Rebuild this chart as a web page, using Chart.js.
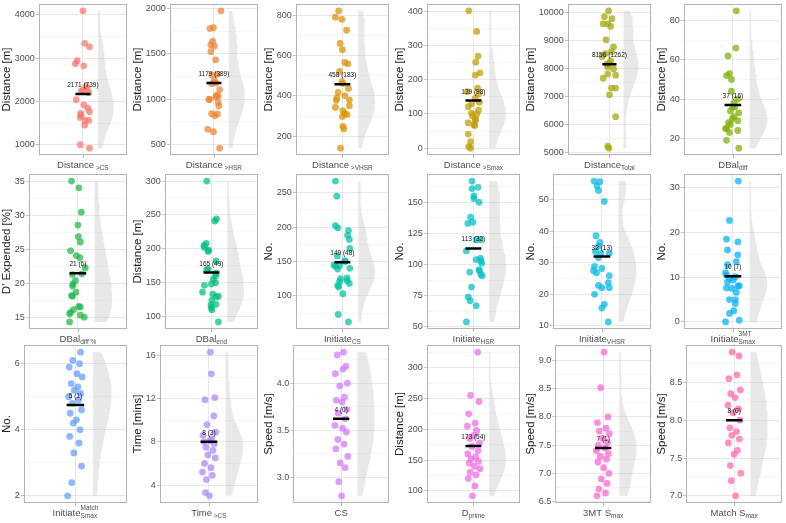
<!DOCTYPE html>
<html>
<head>
<meta charset="utf-8">
<script src="https://cdn.jsdelivr.net/npm/chart.js@4.4.1/dist/chart.umd.min.js"></script>
<style>
html, body { margin: 0; padding: 0; background: #fff; }
#wrap { position: relative; width: 786px; height: 523px; overflow: hidden; }
</style>
</head>
<body>
<div id="wrap"></div>
<script>
// ===========================
// Data
// ===========================
const distCS    = [4090,3340,3260,2940,2870,2820,2350,2300,2260,2230,2200,2040,1920,1850,1760,1720,1680,1630,1560,1560,1450,1000,920];
const distHSR   = [1975,1790,1780,1640,1600,1585,1525,1435,1275,1268,1205,1180,1170,1105,1045,1035,1025,1000,995,965,925,840,838,818,668,643,461];
const distVHSR  = [821,790,779,725,660,629,566,559,521,470,462,437,418,402,390,378,381,352,343,327,314,308,298,250,237,142];
const distSmax  = [401,341,269,251,220,213,175,165,158,145,134,130,121,111,102,99,94,85,80,74,68,66,41,19,4,0];
const distTotal = [10060,9850,9780,9600,9600,9510,9030,8780,8610,8540,8430,8280,8190,8160,8060,7990,7810,7770,7660,7310,7310,7070,6290,5240,5170];
const dbalDiff  = [85,66,62,53,52,50,44,40,38,36,36,34,33,31,30,29,28,27,25,25,24,23,19,15];
const dbalPct   = [35.1,34.1,30.5,28.6,26.9,26.1,24.8,24.1,23.8,22.3,21.4,21.3,20.4,19.9,19.6,18.7,18.2,18.1,16.6,16.5,16.1,15.7,15.5,15.3,15.0,14.3];
const dbalEnd   = [300,244,241,208,205,202,198,196,182,170,169,164,160,155,150,148,146,136,133,130,129,124,118,117,113,110,92];
const initCS    = [267,245,202,199,195,188,182,169,158,151,150,145,144,143,140,139,126,125,122,121,118,115,113,103,73,62];
const initHSR   = [167,162,161,155,153,150,138,134,133,120,120,111,105,104,103,101,96,95,94,92,91,82,74,71,67,54];
const initVHSR  = [56.0,55.8,54.4,53.0,49.5,38.6,36.5,35.3,33.6,33.1,32.9,31.6,28.9,28.2,27.5,26.8,25.9,23.7,22.8,22.1,22.1,20.0,16.8,15.6,11.2];
const init3MT   = [31.5,22.7,18.5,17.9,16.1,15.0,13.5,12.8,11.0,10.5,10.1,9.7,9.4,8.9,8.1,8.0,7.6,7.5,6.6,5.0,5.0,4.1,2.5,1.9,0.4,0];
const initMatch = [6.35,6.1,6.0,5.9,5.7,5.6,5.4,5.3,5.2,5.1,5.0,4.9,4.8,4.6,4.5,4.3,4.2,4.0,3.8,3.6,3.3,2.9,2.4,2.0];
const timeCS    = [16.3,14.3,12.1,11.9,10.4,9.6,8.9,8.6,8.3,8.1,8.0,7.8,7.5,7.2,6.8,6.5,6.0,5.6,5.2,4.9,4.5,3.3,3.0];
const csSpeed   = [4.33,4.3,4.18,4.15,4.1,4.0,3.97,3.85,3.82,3.8,3.72,3.68,3.62,3.55,3.52,3.48,3.4,3.35,3.3,3.22,3.15,3.1,2.95,2.8];
const dPrime    = [325,255,245,225,210,205,198,190,185,178,172,165,160,155,152,148,145,140,136,130,126,120,108,92];
const smax3MT   = [9.15,8.52,8.0,7.9,7.8,7.75,7.7,7.62,7.55,7.5,7.45,7.4,7.35,7.3,7.25,7.2,7.1,7.0,6.9,6.82,6.72,6.65,6.6];
const smaxMatch = [8.9,8.85,8.6,8.55,8.4,8.35,8.3,8.2,8.15,8.1,8.0,7.9,7.85,7.8,7.75,7.7,7.6,7.55,7.4,7.3,7.2,7.0];

// horizontal jitter of each point (category units)
const jitCS    = [0,0.04,0.15,-0.13,-0.17,0.02,0.07,0.1,0,-0.04,0.13,-0.15,0.02,0.11,0.15,-0.05,-0.04,-0.06,0.13,0.05,0.04,-0.06,0.15];
const jitHSR   = [0.16,-0.01,-0.09,-0.03,-0.07,0.01,-0.07,0.04,0.08,-0.05,0.01,0.04,-0.05,0.13,0.06,0.1,0.04,-0.11,-0.1,0.1,0.11,-0.05,0.08,0.02,-0.14,-0.01,0.13];
const jitVHSR  = [-0.08,-0.15,-0.01,0.09,-0.05,0,0.05,0.12,-0.06,-0.01,0.01,0.13,-0.09,0.05,-0.12,-0.13,0.15,0.15,-0.15,0.01,0.05,0.1,0,0.01,0.03,-0.04];
const jitSmax  = [-0.1,0.07,0.1,0.05,0.14,0.04,0.09,-0.13,0.11,0.04,0.13,-0.04,-0.11,0.11,-0.04,0.07,-0.02,0.05,0.04,-0.11,0.01,0.03,-0.11,-0.06,-0.1,-0.06];
const jitTotal = [-0.02,-0.12,0.06,-0.15,-0.04,0.03,-0.08,0.1,0.05,-0.1,-0.17,0.03,0,-0.06,-0.04,0.1,-0.04,0.15,-0.15,0.05,0.15,0,0.15,-0.04,-0.01];
const jitDiff  = [0.07,0.06,-0.1,-0.07,-0.13,-0.03,-0.03,0.1,0.02,-0.01,0.04,-0.05,0.12,0.02,-0.01,0.1,-0.09,-0.05,-0.15,-0.13,0.1,-0.07,-0.13,0.12];
const jitPct   = [-0.13,0.02,0.07,0,0.01,0.05,-0.15,-0.03,0.04,0.15,0.08,-0.11,-0.05,-0.1,-0.11,-0.04,-0.13,-0.11,0.02,0.05,-0.09,-0.15,-0.17,0.05,0.13,-0.17];
const jitEnd   = [-0.1,0.11,0.07,-0.11,-0.16,-0.15,-0.06,-0.07,0.1,-0.07,-0.1,0.1,0.09,0.04,0.09,0,-0.15,-0.19,0.03,0.15,0.1,0.01,0.1,-0.01,0,0.01,0.15];
const jitInCS  = [-0.15,-0.12,-0.15,-0.1,0.13,0.11,0.15,0.16,-0.11,0.05,0.06,-0.18,-0.06,-0.15,0.16,-0.1,0.1,-0.04,0.1,-0.06,0.15,-0.1,-0.08,0.01,-0.09,0.13];
const jitInHSR = [-0.03,0.1,-0.03,0.01,0.01,0.12,-0.06,-0.01,-0.12,0.06,0.15,-0.15,0.15,0.06,0.16,0.18,0.12,0.13,-0.08,0.16,0.19,-0.04,-0.11,-0.07,0.06,-0.15];
const jitInVH  = [-0.16,-0.04,-0.1,-0.07,0.05,-0.12,-0.04,-0.07,-0.13,0.15,-0.02,-0.07,-0.15,0,-0.17,-0.11,0.15,0.13,-0.07,0,0.15,-0.15,0.05,0,0.13];
const jitIn3MT = [0.11,-0.07,-0.13,0.1,-0.11,0.1,0.07,-0.11,-0.15,-0.13,0.05,-0.07,0.01,-0.11,0.13,0.1,-0.13,-0.02,0.07,-0.07,0.05,0.05,0.02,-0.07,0.13,-0.15];
const jitInMat = [0.1,-0.05,0.08,-0.12,0.03,0.13,-0.08,0.05,-0.02,0.1,-0.13,0.06,-0.06,0.12,-0.1,0.02,-0.04,0.09,-0.11,0.07,-0.03,0.12,-0.07,-0.15];
const jitTime  = [0.03,0.05,0.12,-0.08,0.1,-0.04,0.14,-0.12,0.06,0.02,-0.1,0.11,-0.06,0.08,-0.02,0.13,-0.09,0.04,-0.13,0.07,-0.05,-0.07,0.01];
const jitCSsp  = [0.05,-0.08,0.1,0.04,-0.12,0.13,-0.03,0.07,-0.1,0.02,0.12,-0.06,0.09,-0.13,0.03,0.11,-0.07,0.06,-0.11,0.14,-0.02,0.08,-0.05,0.01];
const jitDpr   = [0.09,-0.06,0.12,-0.1,0.04,-0.13,0.07,0.01,-0.08,0.13,-0.03,0.1,-0.12,0.05,-0.05,0.11,-0.09,0.02,0.14,-0.07,0.06,-0.11,0.03,-0.02];
const jit3MT   = [0.02,-0.05,0.1,-0.12,0.06,-0.08,0.13,-0.02,0.09,-0.1,0.04,-0.14,0.11,-0.06,0.07,-0.11,0.01,0.12,-0.04,0.08,-0.09,0.05,-0.13];
const jitMat   = [-0.04,0.1,0.06,-0.11,0.13,-0.07,0.02,-0.13,0.09,-0.02,0.12,-0.09,0.05,-0.05,0.11,-0.12,0.07,0.0,-0.08,0.14,-0.06,0.03];

const panelValues = [distCS, distHSR, distVHSR, distSmax, distTotal, dbalDiff,
                     dbalPct, dbalEnd, initCS, initHSR, initVHSR, init3MT,
                     initMatch, timeCS, csSpeed, dPrime, smax3MT, smaxMatch];
const panelJitter = [jitCS, jitHSR, jitVHSR, jitSmax, jitTotal, jitDiff,
                     jitPct, jitEnd, jitInCS, jitInHSR, jitInVH, jitIn3MT,
                     jitInMat, jitTime, jitCSsp, jitDpr, jit3MT, jitMat];

const meanValues = [2171, 1179, 458, 139, 8156, 37, 21.5, 165, 149, 113, 32, 10.2, 4.75, 8.0, 3.62, 173, 7.45, 8.0];
const meanLabels = ["2171 (739)", "1179 (389)", "458 (183)", "139 (98)", "8156 (1262)", "37 (16)",
                    "21 (6)", "165 (49)", "149 (48)", "113 (32)", "32 (13)", "10 (7)",
                    "5 (1)", "8 (3)", "4 (0)", "173 (54)", "7 (1)", "8 (0)"];

const yTitles = ["Distance [m]", "Distance [m]", "Distance [m]", "Distance [m]", "Distance [m]", "Distance [m]",
                 "D' Expended [%]", "Distance [m]", "No.", "No.", "No.", "No.",
                 "No.", "Time [mins]", "Speed [m/s]", "Distance [m]", "Speed [m/s]", "Speed [m/s]"];
const majorSteps = [1000, 500, 200, 100, 1000, 20, 5, 50, 50, 25, 10, 10, 2, 4, 0.5, 50, 0.5, 0.5];

const xMain = ["Distance", "Distance", "Distance", "Distance", "Distance", "DBal",
               "DBal", "DBal", "Initiate", "Initiate", "Initiate", "Initiate",
               "Initiate", "Time", "CS", "D", "3MT S", "Match S"];
const xSub  = [" >CS", " >HSR", " >VHSR", " >Smax", "Total", "diff",
               "diff %", "end", "CS", "HSR", "VHSR", "Smax",
               "Smax", " >CS", "", "prime", "max", "max"];
const xSup  = ["", "", "", "", "", "", "", "", "", "", "", "3MT", "Match", "", "", "", "", ""];

const pointColors = ["#F8766D", "#EA8331", "#D89000", "#C09B00", "#A3A500", "#7CAE00",
                     "#1DB94A", "#00BF7D", "#00C1A3", "#00BFC4", "#00BAE0", "#00B0F6",
                     "#619CFF", "#AA85FF", "#D376FF", "#F166E8", "#FD61D1", "#FF65AC"];

// ===========================
// Layout / style
// ===========================
const FONT = '"Liberation Sans", Arial, sans-serif';
const COL_W = 131;
const ROW_TOP = [0, 170, 341];
const ROW_H = [176, 178, 182];
const PAD_TOP = [0, 3, 3];
const PAD_BOTTOM = [21, 19, 20];
const VIOLIN_BASE = 0.34, VIOLIN_W = 0.36;

function rgba(hex, a) {
    const n = parseInt(hex.slice(1), 16);
    return `rgba(${n >> 16},${(n >> 8) & 255},${n & 255},${a})`;
}

// half violin from a gaussian kernel density (bw.nrd0), trimmed to the data range
function halfViolin(vals) {
    const n = vals.length;
    const mean = vals.reduce((a, b) => a + b, 0) / n;
    const sd = Math.sqrt(vals.reduce((a, v) => a + (v - mean) ** 2, 0) / (n - 1));
    const s = [...vals].sort((a, b) => a - b);
    const q = p => { const h = (n - 1) * p, lo = Math.floor(h); return s[lo] + (h - lo) * ((s[lo + 1] ?? s[lo]) - s[lo]); };
    const bw = 0.9 * Math.min(sd, (q(0.75) - q(0.25)) / 1.34) * Math.pow(n, -0.2);
    const lo = s[0], hi = s[n - 1];
    const dens = [];
    for (let i = 0; i <= 100; i++) {
        const y = lo + (hi - lo) * i / 100;
        let d = 0;
        vals.forEach(v => { const z = (y - v) / bw; d += Math.exp(-z * z / 2); });
        dens.push({ y, d });
    }
    const maxD = Math.max(...dens.map(p => p.d));
    const pts = [{ x: VIOLIN_BASE, y: lo }];
    dens.forEach(p => pts.push({ x: VIOLIN_BASE + VIOLIN_W * p.d / maxD, y: p.y }));
    pts.push({ x: VIOLIN_BASE, y: hi });
    return pts;
}

// frame, x tick + label (with sub/superscript), mean annotation
const decoPlugin = {
    id: 'deco',
    afterDraw(chart) {
        const o = chart.options.plugins.deco;
        const { ctx, chartArea: a, scales: { x, y } } = chart;
        const cx = x.getPixelForValue(0);
        ctx.save();
        ctx.strokeStyle = '#B3B3B3';
        ctx.lineWidth = 1;
        ctx.strokeRect(Math.round(a.left) + 0.5, Math.round(a.top) + 0.5,
                       Math.round(a.right - a.left) - 1, Math.round(a.bottom - a.top) - 1);
        ctx.beginPath();
        ctx.moveTo(Math.round(cx) + 0.5, a.bottom);
        ctx.lineTo(Math.round(cx) + 0.5, a.bottom + 3);
        ctx.stroke();

        // axis label
        ctx.textAlign = 'left';
        ctx.textBaseline = 'alphabetic';
        ctx.fillStyle = '#4D4D4D';
        ctx.font = `9.5px ${FONT}`;
        const wm = ctx.measureText(o.main).width;
        ctx.font = `6.5px ${FONT}`;
        const ws = o.sub ? ctx.measureText(o.sub).width : 0;
        const wp = o.sup ? ctx.measureText(o.sup).width : 0;
        const sx = cx - (wm + Math.max(ws, wp)) / 2;
        const base = a.bottom + 12.5;
        ctx.font = `9.5px ${FONT}`;
        ctx.fillText(o.main, sx, base);
        ctx.font = `6.5px ${FONT}`;
        if (o.sub) ctx.fillText(o.sub, sx + wm, base + 2);
        if (o.sup) ctx.fillText(o.sup, sx + wm, base - 6);

        // mean (sd) text
        ctx.textAlign = 'center';
        ctx.fillStyle = '#111';
        ctx.font = `6.5px ${FONT}`;
        ctx.fillText(o.meanLabel, cx, y.getPixelForValue(o.mean) - 7);
        ctx.restore();
    }
};

// ===========================
// Build the panels
// ===========================
const wrap = document.getElementById('wrap');

panelValues.forEach((vals, i) => {
    const r = Math.floor(i / 6), c = i % 6;
    const cv = document.createElement('canvas');
    cv.width = COL_W;
    cv.height = ROW_H[r];
    cv.style.cssText = `position:absolute;left:${c * COL_W}px;top:${ROW_TOP[r]}px;width:${COL_W}px;height:${ROW_H[r]}px`;
    wrap.appendChild(cv);

    const step = majorSteps[i];
    const minor = step / 2;
    const isMajor = v => Math.abs(v / step - Math.round(v / step)) < 1e-6;
    const dec = step < 1 ? 1 : 0;
    const lo = Math.min(...vals), hi = Math.max(...vals);
    const pad = (hi - lo) * 0.05;
    const jit = panelJitter[i];

    new Chart(cv, {
        type: 'scatter',
        data: {
            datasets: [
                {
                    type: 'line',
                    data: halfViolin(vals),
                    fill: 'shape',
                    backgroundColor: 'rgba(190,190,190,0.35)',
                    borderWidth: 0,
                    pointRadius: 0,
                    tension: 0,
                    order: 3
                },
                {
                    data: vals.map((v, k) => ({ x: jit[k] ?? 0, y: v })),
                    backgroundColor: rgba(pointColors[i], 0.72),
                    borderWidth: 0,
                    pointRadius: 3.4,
                    order: 2
                },
                {
                    type: 'line',
                    data: [{ x: -0.17, y: meanValues[i] }, { x: 0.17, y: meanValues[i] }],
                    borderColor: '#000',
                    borderWidth: 2.5,
                    pointRadius: 0,
                    order: 1
                }
            ]
        },
        options: {
            responsive: false,
            devicePixelRatio: 1,
            animation: false,
            events: [],
            layout: { padding: { left: 0, right: 3, top: PAD_TOP[r], bottom: PAD_BOTTOM[r] } },
            plugins: {
                legend: { display: false },
                tooltip: { enabled: false },
                deco: { main: xMain[i], sub: xSub[i], sup: xSup[i], mean: meanValues[i], meanLabel: meanLabels[i] }
            },
            scales: {
                x: {
                    type: 'linear',
                    min: -1,
                    max: 1,
                    afterBuildTicks: s => { s.ticks = [{ value: 0 }]; },
                    ticks: { display: false },
                    grid: { color: '#E2E2E2', lineWidth: 0.8, drawTicks: false },
                    border: { display: false }
                },
                y: {
                    min: lo - pad,
                    max: hi + pad,
                    // major + minor breaks, like the ggplot panel grid
                    afterBuildTicks: s => {
                        const t = [];
                        for (let k = Math.ceil(s.min / minor - 1e-9); k * minor <= s.max + 1e-9; k++) {
                            t.push({ value: +(k * minor).toFixed(6) });
                        }
                        s.ticks = t;
                    },
                    afterFit: s => { s.paddingTop = 0; s.paddingBottom = 0; },
                    ticks: {
                        autoSkip: false,
                        padding: 1,
                        color: '#4D4D4D',
                        font: { size: 9, family: FONT },
                        callback: v => isMajor(v) ? Number(v).toFixed(dec) : ''
                    },
                    grid: {
                        color: g => (g.tick && isMajor(g.tick.value)) ? '#E2E2E2' : '#F2F2F2',
                        lineWidth: g => (g.tick && isMajor(g.tick.value)) ? 0.8 : 0.6,
                        tickLength: 3,
                        tickColor: g => (g.tick && isMajor(g.tick.value)) ? '#B3B3B3' : 'rgba(0,0,0,0)'
                    },
                    border: { display: false },
                    title: {
                        display: true,
                        text: yTitles[i],
                        color: '#1A1A1A',
                        font: { size: 11.5, family: FONT },
                        padding: { top: 0, bottom: 0 }
                    }
                }
            }
        },
        plugins: [decoPlugin]
    });
});
</script>
</body>
</html>
